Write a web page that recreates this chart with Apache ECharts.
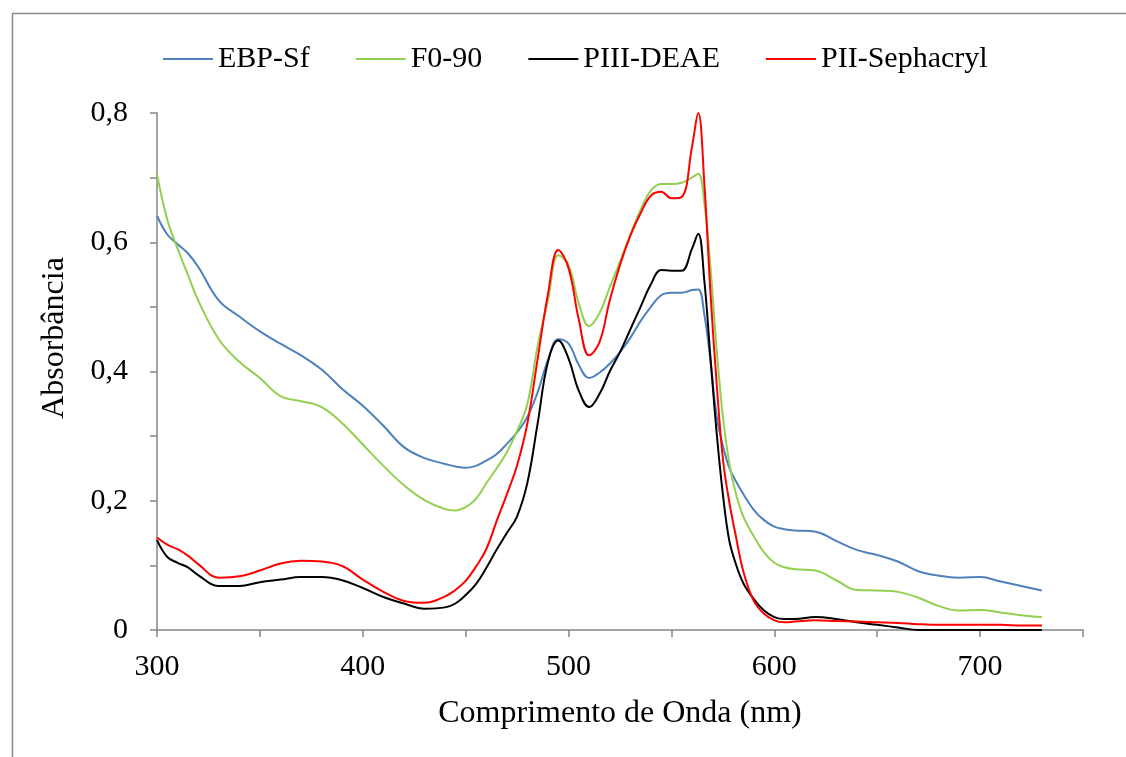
<!DOCTYPE html>
<html><head><meta charset="utf-8">
<script src="https://cdn.jsdelivr.net/npm/echarts@6/dist/echarts.min.js"></script>
<style>html,body{margin:0;padding:0;background:#fff}#c{width:1126px;height:757px}</style>
</head><body><div id="c"></div>
<script>
const wavelengths = [300,305,310,315,320,330,340,350,360,370,380,390,400,410,420,430,440,445,450,455,460,465,470,475,480,485,490,495,500,505,510,515,520,525,530,535,540,545,550,555,560,563,566,569,572,575,578,581,585,590,595,600,605,610,620,630,640,650,660,670,680,690,700,710,720,730];
const ebpSf = [0.641,0.612,0.597,0.583,0.562,0.510,0.485,0.462,0.443,0.425,0.403,0.373,0.347,0.316,0.283,0.266,0.257,0.253,0.251,0.254,0.262,0.272,0.288,0.306,0.330,0.368,0.418,0.450,0.443,0.410,0.390,0.398,0.412,0.430,0.452,0.478,0.500,0.518,0.522,0.522,0.526,0.527,0.488,0.415,0.330,0.285,0.252,0.232,0.210,0.186,0.170,0.160,0.156,0.154,0.152,0.138,0.124,0.116,0.106,0.091,0.084,0.081,0.082,0.075,0.068,0.061];
const f090 = [0.705,0.635,0.590,0.550,0.510,0.450,0.415,0.390,0.362,0.354,0.345,0.320,0.287,0.254,0.224,0.201,0.187,0.185,0.190,0.203,0.227,0.250,0.275,0.308,0.350,0.440,0.510,0.580,0.565,0.505,0.470,0.490,0.530,0.570,0.612,0.650,0.680,0.690,0.690,0.692,0.700,0.706,0.660,0.560,0.433,0.330,0.260,0.215,0.175,0.145,0.120,0.104,0.097,0.094,0.092,0.077,0.062,0.061,0.059,0.050,0.037,0.030,0.031,0.027,0.023,0.020];
const piiiDeae = [0.139,0.113,0.104,0.097,0.085,0.068,0.068,0.074,0.078,0.082,0.082,0.077,0.065,0.051,0.041,0.033,0.035,0.041,0.054,0.071,0.096,0.124,0.150,0.176,0.228,0.320,0.415,0.448,0.420,0.370,0.345,0.365,0.400,0.430,0.465,0.500,0.535,0.557,0.556,0.556,0.590,0.613,0.540,0.420,0.304,0.210,0.140,0.105,0.072,0.048,0.030,0.020,0.017,0.017,0.020,0.017,0.012,0.008,0.004,0.000,0,0,0,0,0,0];
const piiSephacryl = [0.143,0.132,0.125,0.115,0.102,0.081,0.083,0.092,0.103,0.107,0.106,0.099,0.078,0.059,0.045,0.042,0.052,0.062,0.076,0.098,0.125,0.168,0.210,0.255,0.320,0.420,0.520,0.588,0.560,0.480,0.425,0.445,0.510,0.565,0.610,0.645,0.672,0.678,0.668,0.670,0.748,0.800,0.690,0.520,0.380,0.265,0.200,0.150,0.090,0.045,0.025,0.015,0.012,0.013,0.015,0.014,0.013,0.012,0.011,0.009,0.008,0.008,0.008,0.008,0.007,0.007];
const seriesNames = ['EBP-Sf','F0-90','PIII-DEAE','PII-Sephacryl'];
const seriesColors = ['#4F81BD','#92D050','#000000','#FF0000'];
const xTitle = 'Comprimento de Onda (nm)';
const yTitle = 'Absorbância';

const allData = [ebpSf, f090, piiiDeae, piiSephacryl];
const font = 'Liberation Serif, Times New Roman, serif';
const chart = echarts.init(document.getElementById('c'), null, {renderer:'canvas'});
chart.setOption({
  animation:false,
  backgroundColor:'#fff',
  graphic:[
    {type:'rect', shape:{x:12.5,y:13.5,width:1300,height:900}, style:{fill:'none',stroke:'#8a8a8a',lineWidth:1.5}, z:-1},
    {type:'text', x:55, y:338, rotation:Math.PI/2, style:{text:yTitle, font:'32px '+font, fill:'#000', align:'center', verticalAlign:'middle'}}
  ],
  legend:{
    top:39, left:158, itemWidth:50, itemHeight:2, itemGap:46, icon:'rect',
    textStyle:{fontFamily:font, fontSize:30, color:'#000'},
    data:seriesNames
  },
  grid:{left:157, right:43, top:113, bottom:127, containLabel:false},
  xAxis:{
    type:'value', min:300, max:750, interval:50,
    name:xTitle, nameLocation:'middle', nameGap:68,
    nameTextStyle:{fontFamily:font, fontSize:32, color:'#000'},
    axisLine:{lineStyle:{color:'#868686', width:1.5}},
    axisTick:{show:true, length:7, inside:false, lineStyle:{color:'#868686', width:1.5}},
    splitLine:{show:false},
    axisLabel:{fontFamily:font, fontSize:30, color:'#000', margin:22,
      formatter:v => (v % 100 === 0 && v <= 700) ? String(v) : ''}
  },
  yAxis:{
    type:'value', min:0, max:0.8, interval:0.1,
    axisLine:{show:true, lineStyle:{color:'#868686', width:1.5}},
    axisTick:{show:true, length:7, inside:false, lineStyle:{color:'#868686', width:1.5}},
    splitLine:{show:false},
    axisLabel:{fontFamily:font, fontSize:30, color:'#000', margin:29,
      formatter:v => { const k = Math.round(v*10); if (k % 2 !== 0) return ''; return k === 0 ? '0' : (v.toFixed(1).replace('.', ',')); }}
  },
  series: seriesNames.map((n,i) => ({
    name:n, type:'line', symbol:'none', smooth:0.4,
    color:seriesColors[i],
    lineStyle:{color:seriesColors[i], width:2},
    data: wavelengths.map((w,j) => [w, allData[i][j]])
  }))
});
</script></body></html>
